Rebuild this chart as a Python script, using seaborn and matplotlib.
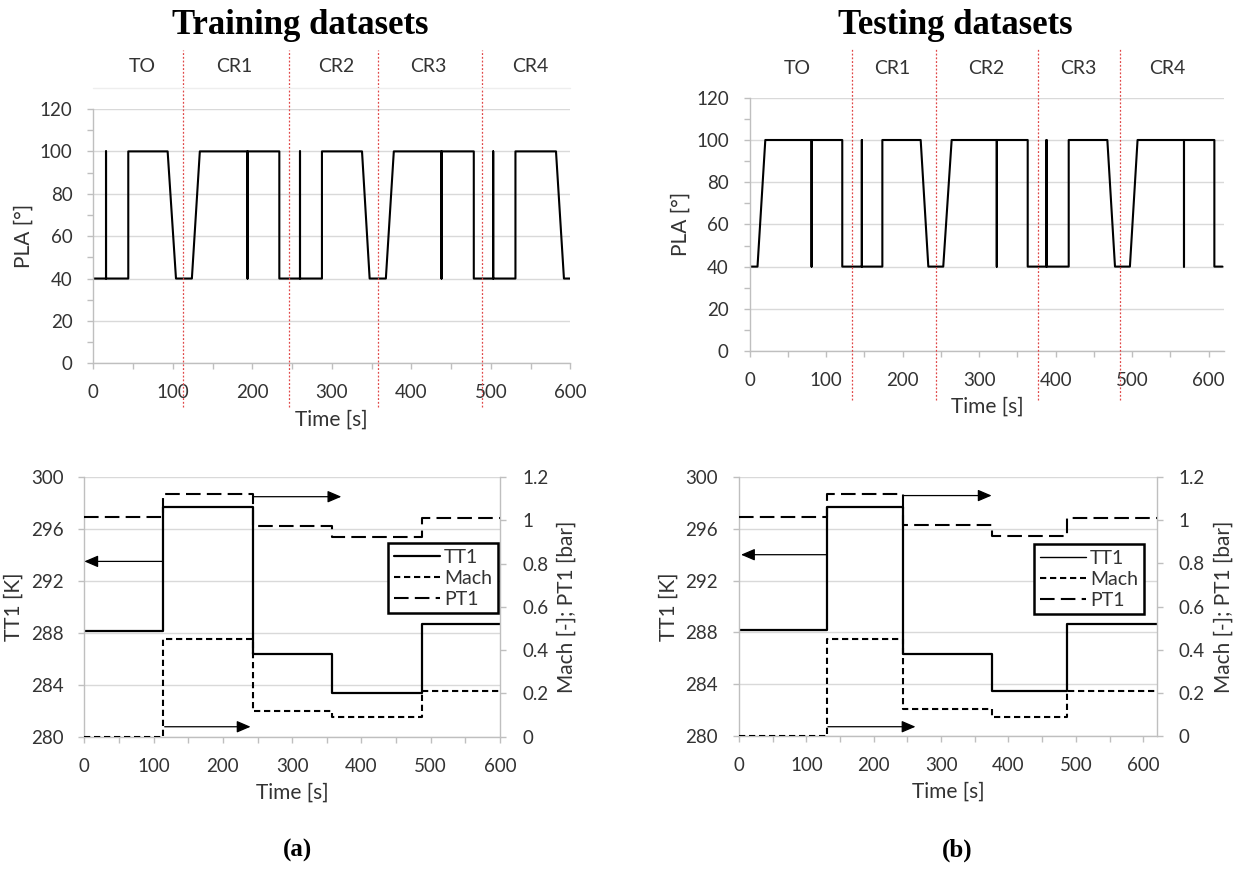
import matplotlib
matplotlib.use('Agg')
import matplotlib.pyplot as plt
import matplotlib.transforms as mtransforms
from matplotlib.lines import Line2D
from matplotlib.ticker import MultipleLocator, FuncFormatter
import seaborn as sns

sns.set_style('white')
plt.rcParams['font.family'] = ['Lato', 'DejaVu Sans']
plt.rcParams['text.color'] = '#333333'
plt.rcParams['axes.labelcolor'] = '#333333'

# ---- data ----
# PLA trace, training set (vertices of the polyline)
pla_train_t = [0, 16, 16, 16, 44, 44, 93.5, 104, 124, 134, 194, 194, 194, 234, 234,
               260, 260, 260, 287.6, 287.6, 338, 347.6, 368, 378, 438, 438, 438,
               478.6, 478.6, 503, 503, 503, 531, 531, 582, 592, 600]
pla_train_v = [40, 40, 100, 40, 40, 100, 100, 40, 40, 100, 100, 40, 100, 100, 40,
               40, 100, 40, 40, 100, 100, 40, 40, 100, 100, 40, 100,
               100, 40, 40, 100, 40, 40, 100, 100, 40, 40]

# PLA trace, testing set
pla_test_t = [0, 10.2, 20.4, 80.9, 80.9, 80.9, 121, 121, 146.6, 146.6, 146.6, 173.4,
              173.4, 223.5, 233.5, 253, 264, 323, 323, 323, 363.4, 363.4, 388, 388,
              388, 417, 417, 467.5, 477.5, 497, 507, 567.7, 567.7, 567.7, 607.4,
              607.4, 618]
pla_test_v = [40, 40, 100, 100, 40, 100, 100, 40, 40, 100, 40, 40,
              100, 100, 40, 40, 100, 100, 40, 100, 100, 40, 40, 100,
              40, 40, 100, 100, 40, 40, 100, 100, 40, 100, 100,
              40, 40]

seg_names = ['TO', 'CR1', 'CR2', 'CR3', 'CR4']
train_seg_mid = [62, 177, 306, 422, 550]
test_seg_mid = [62, 186, 309, 430, 546]
train_bounds = [113, 245.6, 358.5, 489.5]
test_bounds = [134, 243, 377, 484]

# boundary conditions (step changes)
bc_train_t = [0, 114, 244, 357, 487, 600]
tt1_train = [288.15, 297.7, 286.35, 283.4, 288.65, 288.65]
mach_train = [0, 0.45, 0.12, 0.09, 0.21, 0.21]
pt1_train = [1.015, 1.12, 0.975, 0.925, 1.01, 1.01]

bc_test_t = [0, 130.5, 244, 375, 487, 620]
tt1_test = [288.2, 297.7, 286.35, 283.45, 288.65, 288.65]
mach_test = [0, 0.45, 0.125, 0.09, 0.21, 0.21]
pt1_test = [1.015, 1.12, 0.978, 0.927, 1.012, 1.012]

# ---- styling ----
grid_c = '#d9d9d9'
spine_c = '#bfbfbf'
red = '#e04848'
mach_ls = (0, (3, 1.8))
pt1_ls = (0, (7, 3))
lab_fs = 15
tick_fs = 13.5

W, H = 1236, 873
fig = plt.figure(figsize=(W / 100, H / 100), dpi=100)


def rect(l, r, t, b):
    return [l / W, 1 - b / H, (r - l) / W, (b - t) / H]


def style_axis(ax):
    ax.grid(axis='y', color=grid_c, lw=1)
    ax.grid(axis='x', visible=False)
    ax.set_axisbelow(True)
    for s in ['top', 'right']:
        ax.spines[s].set_visible(False)
    for s in ['left', 'bottom']:
        ax.spines[s].set_color(spine_c)
        ax.spines[s].set_linewidth(1)
    ax.xaxis.set_major_locator(MultipleLocator(100))
    ax.xaxis.set_minor_locator(MultipleLocator(50))
    ax.tick_params(which='both', direction='out', color=spine_c, length=4,
                   width=1, labelsize=tick_fs, labelcolor='#333333',
                   left=True, bottom=True)
    ax.tick_params(axis='x', pad=11)
    ax.tick_params(axis='y', pad=11)
    ax.set_xlabel('Time [s]', fontsize=lab_fs, labelpad=6)


def pla_panel(ax, t, v, xmax, bounds, mids, label_y, line_top, line_bot, rule=None):
    sns.lineplot(x=t, y=v, ax=ax, color='black', lw=1.5, sort=False, estimator=None)
    ax.set_xlim(0, xmax)
    ax.set_ylim(0, 120)
    ax.yaxis.set_major_locator(MultipleLocator(20))
    ax.yaxis.set_minor_locator(MultipleLocator(10))
    style_axis(ax)
    ax.set_ylabel('PLA [°]', fontsize=lab_fs, labelpad=4)
    tr = mtransforms.blended_transform_factory(ax.transData, fig.transFigure)
    for b in bounds:
        fig.add_artist(Line2D([b, b], [1 - line_bot / H, 1 - line_top / H],
                              transform=tr, color=red, lw=0.9, ls=(0, (1.5, 1.5))))
    for m, n in zip(mids, seg_names):
        ax.text(m, 1 - label_y / H, n, transform=tr, ha='center', va='center',
                fontsize=14, color='#333333')
    if rule is not None:
        fig.add_artist(Line2D([0, xmax], [1 - rule / H] * 2, transform=tr,
                              color='#eeeeee', lw=1))


def bc_panel(ax, t, tt1, mach, pt1, xmax, arrows, legend_anchor, tt1_lw):
    sns.lineplot(x=t, y=tt1, ax=ax, color='black', lw=1.6, drawstyle='steps-post',
                 sort=False, estimator=None)
    ax.set_xlim(0, xmax)
    ax.set_ylim(280, 300)
    ax.yaxis.set_major_locator(MultipleLocator(4))
    style_axis(ax)
    ax.set_ylabel('TT1 [K]', fontsize=lab_fs, labelpad=5)

    ax2 = ax.twinx()
    sns.lineplot(x=t, y=mach, ax=ax2, color='black', lw=1.5, drawstyle='steps-post',
                 linestyle=mach_ls, sort=False, estimator=None)
    sns.lineplot(x=t, y=pt1, ax=ax2, color='black', lw=1.5, drawstyle='steps-post',
                 linestyle=pt1_ls, sort=False, estimator=None)
    ax2.set_ylim(0, 1.2)
    ax2.set_xlim(0, xmax)
    ax2.yaxis.set_major_locator(MultipleLocator(0.2))
    ax2.yaxis.set_major_formatter(FuncFormatter(lambda v, p: f'{v:g}'))
    ax2.grid(False)
    for s in ['top', 'left', 'bottom']:
        ax2.spines[s].set_visible(False)
    ax2.spines['right'].set_color(spine_c)
    ax2.spines['right'].set_linewidth(1)
    ax2.tick_params(axis='y', direction='out', color=spine_c, length=4, width=1,
                    labelsize=tick_fs, labelcolor='#333333', right=True, pad=12)
    ax2.set_ylabel('Mach [-]; PT1 [bar]', fontsize=lab_fs, labelpad=6)

    head = '-|>,head_length=0.7,head_width=0.3'
    (l_from, l_to, l_y), (u_from, u_to, u_y), (b_from, b_to, b_y) = arrows
    ax.annotate('', xy=(l_to, l_y), xytext=(l_from, l_y),
                arrowprops=dict(arrowstyle=head, color='black', lw=0.9,
                                mutation_scale=12, shrinkA=0, shrinkB=0))
    for f, to, y in [(u_from, u_to, u_y), (b_from, b_to, b_y)]:
        ax2.annotate('', xy=(to, y), xytext=(f, y),
                     arrowprops=dict(arrowstyle=head, color='black', lw=0.9,
                                     mutation_scale=12, shrinkA=0, shrinkB=0))

    handles = [Line2D([], [], color='black', lw=tt1_lw),
               Line2D([], [], color='black', lw=1.5, ls=mach_ls),
               Line2D([], [], color='black', lw=1.5, ls=pt1_ls)]
    leg = fig.legend(handles, ['TT1', 'Mach', 'PT1'], loc='upper right',
                     bbox_to_anchor=legend_anchor, bbox_transform=fig.transFigure,
                     frameon=True, fancybox=False, edgecolor='black', framealpha=1,
                     fontsize=14, handlelength=2.4, labelspacing=0.2,
                     borderpad=0.3, handletextpad=0.2, borderaxespad=0)
    leg.get_frame().set_linewidth(1.8)


# top row
ax_a = fig.add_axes(rect(93.3, 570.3, 109, 363.3))
pla_panel(ax_a, pla_train_t, pla_train_v, 600, train_bounds, train_seg_mid,
          66, 50, 407, rule=88)
ax_b = fig.add_axes(rect(749.7, 1224, 97.8, 351))
pla_panel(ax_b, pla_test_t, pla_test_v, 620, test_bounds, test_seg_mid,
          68, 48, 400)

# bottom row
ax_c = fig.add_axes(rect(84.3, 500, 477, 736.7))
bc_panel(ax_c, bc_train_t, tt1_train, mach_train, pt1_train, 600,
         [(114, 0, 293.5), (244, 371, 1.109), (116, 240, 0.046)],
         (498 / W, 1 - 543 / H), 1.6)
ax_d = fig.add_axes(rect(739, 1156.7, 477, 736))
bc_panel(ax_d, bc_test_t, tt1_test, mach_test, pt1_test, 620,
         [(130.5, 3, 294.0), (245, 375, 1.114), (132, 262, 0.043)],
         (1144 / W, 1 - 544 / H), 1.0)

# titles and panel letters
serif = ['Liberation Serif', 'DejaVu Serif']
fig.text(300 / W, 1 - 26 / H, 'Training datasets', ha='center', va='center',
         fontsize=25, fontweight='bold', family=serif, color='black')
fig.text(955 / W, 1 - 26 / H, 'Testing datasets', ha='center', va='center',
         fontsize=25, fontweight='bold', family=serif, color='black')
fig.text(297 / W, 1 - 850 / H, '(a)', ha='center', va='center',
         fontsize=18, fontweight='bold', family=serif, color='black')
fig.text(957 / W, 1 - 850 / H, '(b)', ha='center', va='center',
         fontsize=18, fontweight='bold', family=serif, color='black')

fig.savefig('out.png', dpi=100, facecolor='white')
